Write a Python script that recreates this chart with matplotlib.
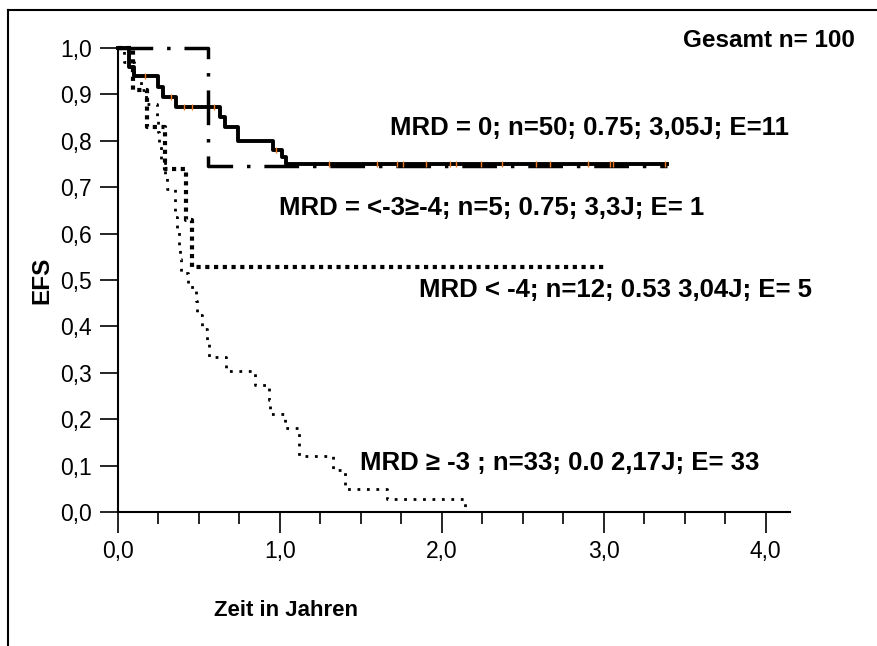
import matplotlib
matplotlib.use("Agg")
import matplotlib.pyplot as plt
from matplotlib.ticker import FixedLocator, FuncFormatter, MultipleLocator
from matplotlib.lines import Line2D

plt.rcParams["font.family"] = ["Liberation Sans", "DejaVu Sans"]

# MRD = 0 (solid)
t_mrd0 = [0.0, 0.07, 0.10, 0.25, 0.28, 0.36, 0.63, 0.66, 0.74, 0.96, 1.01, 1.04, 3.39]
s_mrd0 = [1.0, 0.96, 0.94, 0.917, 0.895, 0.873, 0.852, 0.83, 0.80, 0.78, 0.766, 0.75, 0.75]
cens_mrd0 = [0.167, 0.33, 0.41, 0.46, 0.59, 0.975, 1.30, 1.60, 1.72, 1.76, 1.90,
             2.05, 2.09, 2.24, 2.37, 2.58, 2.67, 2.90, 3.04, 3.06, 3.38]

# MRD <-3 >=-4 (dash-dot)
t_mrd34 = [0.0, 0.556, 3.39]
s_mrd34 = [1.0, 0.745, 0.745]

# MRD < -4 (square dots)
t_mrd4 = [0.0, 0.09, 0.177, 0.29, 0.418, 0.455, 3.02]
s_mrd4 = [1.0, 0.91, 0.83, 0.74, 0.63, 0.527, 0.527]

# MRD >= -3 (fine dots)
t_mrd3 = [0.0, 0.04, 0.10, 0.14, 0.17, 0.24, 0.25, 0.255, 0.265, 0.29, 0.30,
          0.35, 0.355, 0.365, 0.375, 0.385, 0.39, 0.43, 0.48, 0.49, 0.52,
          0.547, 0.56, 0.67, 0.846, 0.93, 0.94, 1.03, 1.12, 1.33, 1.40, 1.66, 2.14]
s_mrd3 = [1.0, 0.97, 0.94, 0.909, 0.879, 0.848, 0.818, 0.788, 0.758, 0.727, 0.697,
          0.667, 0.636, 0.606, 0.576, 0.545, 0.515, 0.485, 0.455, 0.424, 0.394,
          0.364, 0.333, 0.303, 0.273, 0.242, 0.212, 0.182, 0.121, 0.091, 0.05, 0.028, 0.0]

labels = [
    ("MRD = 0; n=50; 0.75; 3,05J; E=11", 2.91, 0.828),
    ("MRD = <-3\u2265-4; n=5; 0.75; 3,3J; E= 1", 2.31, 0.655),
    ("MRD < -4; n=12; 0.53 3,04J; E= 5", 3.07, 0.478),
    ("MRD \u2265 -3 ; n=33; 0.0 2,17J; E= 33", 2.73, 0.106),
]

fig = plt.figure(figsize=(8.77, 6.46), dpi=100)
ax = fig.add_axes([118 / 877, 1 - 512 / 646, 672 / 877, 464 / 646])

# ── curves ─────────────────────────────────────────────────── #
ax.step(t_mrd3, s_mrd3, where="post", color="black", linewidth=2.0,
        linestyle=(0, (1, 2.4)), clip_on=False)
ax.step(t_mrd4, s_mrd4, where="post", color="black", linewidth=3.0,
        linestyle=(0, (1, 1.1)), clip_on=False)
ax.step(t_mrd34, s_mrd34, where="post", color="black", linewidth=2.5,
        linestyle=(0, (10, 4, 1, 4)), dash_capstyle="butt", clip_on=False)
ax.step(t_mrd0, s_mrd0, where="post", color="black", linewidth=2.8, clip_on=False)

# censoring marks on the MRD = 0 curve
cens_y = [s_mrd0[max(i for i, t in enumerate(t_mrd0) if t <= c)] for c in cens_mrd0]
ax.plot(cens_mrd0, cens_y, linestyle="none", marker="|", markersize=5,
        markeredgewidth=1.0, color="#f07820", clip_on=False)

# ── axes ───────────────────────────────────────────────────── #
ax.set_xlim(0, 4.15)
ax.set_ylim(0, 1.0)
ax.spines["top"].set_visible(False)
ax.spines["right"].set_visible(False)
for s in ("left", "bottom"):
    ax.spines[s].set_linewidth(1.5)

ax.xaxis.set_major_locator(FixedLocator([0, 1, 2, 3, 4]))
ax.xaxis.set_minor_locator(MultipleLocator(0.25))
ax.yaxis.set_major_locator(MultipleLocator(0.1))
comma = FuncFormatter(lambda v, p: f"{v:.1f}".replace(".", ","))
ax.xaxis.set_major_formatter(comma)
ax.yaxis.set_major_formatter(comma)
ax.tick_params(axis="x", which="major", direction="out", length=15, width=1.2,
               pad=5, labelsize=16.5)
ax.tick_params(axis="x", which="minor", direction="out", length=8.5, width=1.2)
ax.tick_params(axis="y", which="major", direction="out", length=13, width=1.2,
               pad=6, labelsize=16.5)

ax.set_ylabel("EFS", fontsize=17.5, fontweight="bold", labelpad=5)

# ── annotations ────────────────────────────────────────────── #
for txt, x, y in labels:
    ax.text(x, y, txt, ha="center", va="center", fontsize=18.5, fontweight="bold")
ax.text(4.02, 1.017, "Gesamt n= 100", ha="center", va="center",
        fontsize=17.5, fontweight="bold")

fig.text(286 / 877, 1 - 610 / 646, "Zeit in Jahren", ha="center", va="center",
         fontsize=16, fontweight="bold")

# outer frame (left + top visible in the original crop)
fx, fy = 8 / 877, 1 - 10 / 646
fig.add_artist(Line2D([fx, fx], [0, fy], transform=fig.transFigure,
                      color="black", linewidth=1.5))
fig.add_artist(Line2D([fx, 1], [fy, fy], transform=fig.transFigure,
                      color="black", linewidth=1.5))

fig.savefig("out.png", dpi=100)
